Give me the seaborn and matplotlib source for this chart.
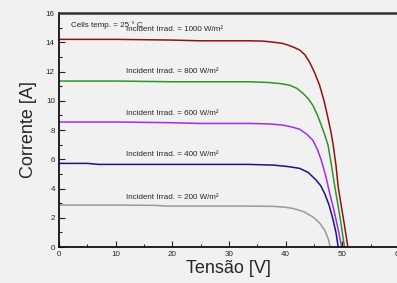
import matplotlib
matplotlib.use("Agg")
import matplotlib.pyplot as plt
from matplotlib.ticker import MultipleLocator
import pandas as pd
import seaborn as sns

# curves: (tensao, corrente) for each irradiance
v_1000 = [0, 10, 20, 25, 30, 33.6, 36, 38, 39.5, 40.5, 41.5, 42.5, 43.4, 44.2, 45.1, 46.0, 46.8, 47.5, 48.0, 48.4, 48.9, 49.3, 49.8, 50.4, 51.0]
i_1000 = [14.2, 14.2, 14.15, 14.1, 14.1, 14.1, 14.08, 14.0, 13.92, 13.8, 13.65, 13.47, 13.15, 12.67, 11.95, 11.07, 10.0, 8.8, 7.9, 7.0, 5.6, 4.1, 2.9, 1.5, 0.0]

v_800 = [0, 10, 20, 25, 30, 33.6, 37, 39, 40.7, 42.0, 43.1, 44.0, 44.8, 45.6, 46.3, 46.9, 47.5, 48.1, 48.7, 49.2, 49.8, 50.4]
i_800 = [11.35, 11.35, 11.3, 11.3, 11.3, 11.3, 11.25, 11.18, 11.07, 10.85, 10.5, 10.15, 9.7, 9.05, 8.34, 7.7, 6.97, 5.6, 4.12, 3.0, 1.6, 0.0]

v_600 = [0, 10, 20, 25, 30, 33.6, 37, 39.5, 41.2, 42.5, 43.8, 44.8, 45.6, 46.3, 47.1, 47.8, 48.4, 48.9, 49.4, 49.9]
i_600 = [8.55, 8.55, 8.5, 8.45, 8.45, 8.45, 8.42, 8.34, 8.2, 8.05, 7.7, 7.31, 6.7, 5.95, 4.85, 3.67, 2.75, 1.9, 1.0, 0.0]

v_400 = [0, 5, 7, 10, 20, 30, 33.6, 38, 40.5, 42.5, 44.0, 45.4, 46.2, 46.9, 47.7, 48.4, 48.9, 49.3]
i_400 = [5.72, 5.72, 5.65, 5.65, 5.65, 5.65, 5.65, 5.6, 5.5, 5.38, 5.1, 4.58, 4.2, 3.67, 2.85, 1.85, 1.0, 0.0]

v_200 = [0, 10, 17, 19, 25, 33.6, 38, 40, 41.3, 43.2, 44.8, 46.0, 46.9, 47.5, 47.9]
i_200 = [2.87, 2.87, 2.85, 2.8, 2.8, 2.8, 2.78, 2.72, 2.64, 2.42, 2.07, 1.65, 1.16, 0.6, 0.0]

labels = ["1000", "800", "600", "400", "200"]
label_y = [14.85, 11.97, 9.1, 6.3, 3.4]
colors = ["#8b1414", "#2a962a", "#9a30f5", "#16168a", "#9a9a9a"]

sns.set_theme(style="white")
plt.rcParams["font.family"] = ["Liberation Sans", "DejaVu Sans"]

fig = plt.figure(figsize=(3.97, 2.83), dpi=100, facecolor="#f1f1f1")
ax = fig.add_axes([0.1486, 0.127, 0.856, 0.827])
ax.set_facecolor("#f1f1f1")

series = [(v_1000, i_1000), (v_800, i_800), (v_600, i_600), (v_400, i_400), (v_200, i_200)]
for (v, i), col in zip(series, colors):
    df = pd.DataFrame({"Tensão [V]": v, "Corrente [A]": i})
    sns.lineplot(data=df, x="Tensão [V]", y="Corrente [A]", color=col, linewidth=1.1, ax=ax)

for lab, y in zip(labels, label_y):
    ax.text(11.8, y, "Incident Irrad. = %s W/m²" % lab, fontsize=5.8, va="center")
ax.text(2.2, 15.2, "Cells temp. = 25 ° C", fontsize=5.8, va="center")

ax.set_xlim(0, 60)
ax.set_ylim(0, 16)
ax.xaxis.set_major_locator(MultipleLocator(10))
ax.xaxis.set_minor_locator(MultipleLocator(5))
ax.yaxis.set_major_locator(MultipleLocator(2))
ax.yaxis.set_minor_locator(MultipleLocator(1))
ax.tick_params(which="both", direction="in", labelsize=5.8, color="#222222", width=0.8, pad=3)
ax.tick_params(which="major", length=4)
ax.tick_params(which="minor", length=2.5)
ax.tick_params(axis="both", which="both", bottom=True, left=True)

for side in ["left", "bottom"]:
    ax.spines[side].set_color("#111111")
    ax.spines[side].set_linewidth(1.3)
ax.spines["top"].set_color("#333333")
ax.spines["top"].set_linewidth(1.8)
ax.spines["right"].set_visible(False)

ax.set_xlabel("Tensão [V]", fontsize=13, labelpad=1)
ax.set_ylabel("Corrente [A]", fontsize=13, labelpad=6)

fig.savefig("out.png", dpi=100, facecolor=fig.get_facecolor())
